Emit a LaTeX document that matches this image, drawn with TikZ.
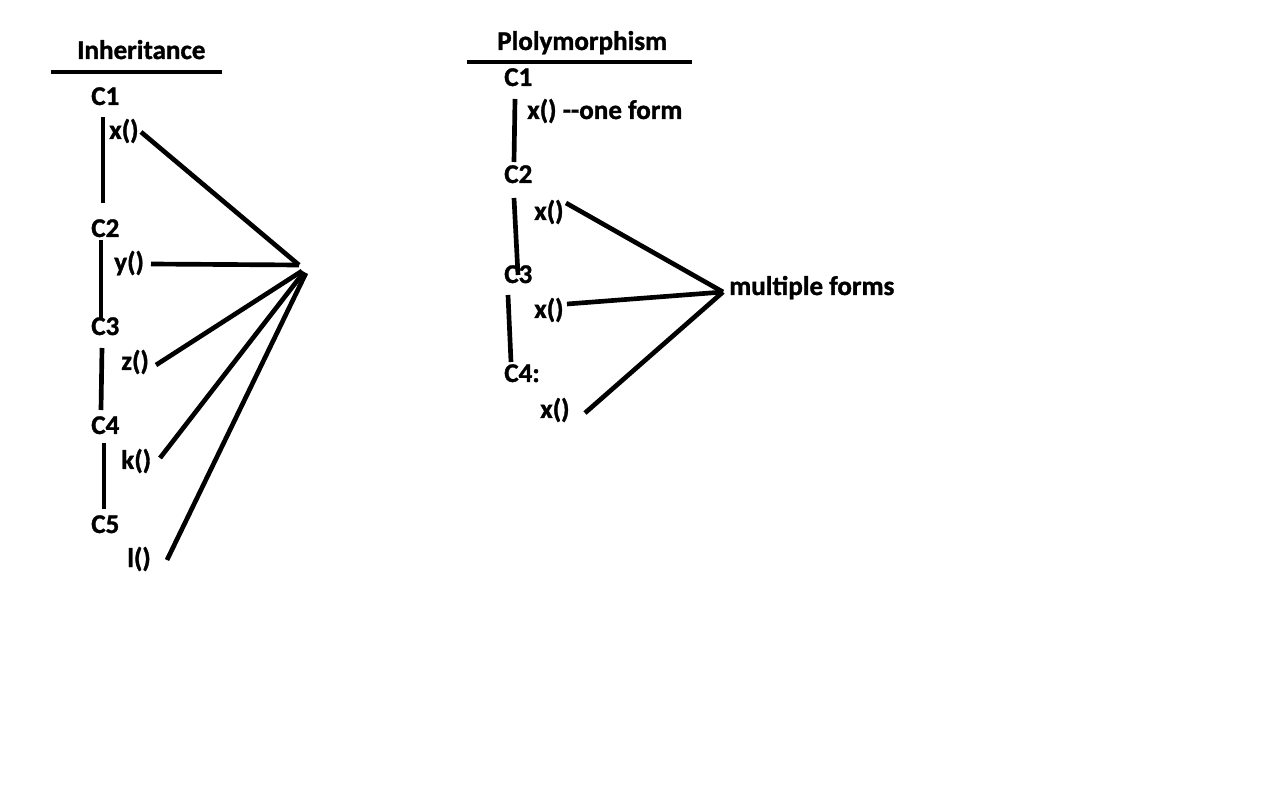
\documentclass[tikz,border=0pt]{standalone}
\usepackage{fontspec}
\setmainfont{Carlito}[BoldFeatures={FakeBold=1.2}]
\begin{document}
\begin{tikzpicture}[x=0.75pt,y=-0.75pt,
  lbl/.style={anchor=base west,inner sep=0pt,font=\bfseries\fontsize{20.3}{24}\selectfont},
  ln/.style={line width=3.5pt,black}]
\path[fill=white] (0,0) rectangle (1271,805);
\useasboundingbox (0,0) rectangle (1271,805);
% ---- Inheritance ----
\node[lbl] (inh) at (77,59) {Inheritance};
\coordinate (inhL) at (51,72); \coordinate (inhR) at (222,72);
\draw[ln] (inhL) -- (inhR);
\node[lbl] (a1) at (91,105) {C1};
\node[lbl] (ax) at (109,139) {x()};
\node[lbl] (a2) at (91,237) {C2};
\node[lbl] (ay) at (114,271) {y()};
\node[lbl] (a3) at (91,335) {C3};
\node[lbl] (az) at (121,370) {z()};
\node[lbl] (a4) at (91,434) {C4};
\node[lbl] (ak) at (121,469) {k()};
\node[lbl] (a5) at (91,533) {C5};
\node[lbl] (al) at (127,567) {l()};
\coordinate (v1a) at (103,117); \coordinate (v1b) at (103,203);
\coordinate (v2a) at (101,240); \coordinate (v2b) at (101,320);
\coordinate (v3a) at (102,348); \coordinate (v3b) at (101,410);
\coordinate (v4a) at (104,443); \coordinate (v4b) at (104,509);
\draw[ln] (v1a) -- (v1b);
\draw[ln] (v2a) -- (v2b);
\draw[ln] (v3a) -- (v3b);
\draw[ln] (v4a) -- (v4b);
\coordinate (apexA) at (299,265);
\coordinate (exA) at (141,132);
\coordinate (eyA) at (151,264);
\coordinate (ezA) at (156,365);
\coordinate (ekA) at (160,458);
\coordinate (elA) at (167,560);
\draw[ln] (exA) -- (apexA);
\draw[ln] (eyA) -- (apexA);
\draw[ln] (ezA) -- (302,271);
\draw[ln] (ekA) -- (304,272);
\draw[ln] (elA) -- (306,273);
% ---- Polymorphism ----
\node[lbl] (pol) at (497,50) {Plolymorphism};
\coordinate (polL) at (467,62); \coordinate (polR) at (692,62);
\draw[ln] (polL) -- (polR);
\node[lbl] (b1) at (504,86) {C1};
\node[lbl] (bx1) at (527,119) {x() -{}-one form};
\node[lbl] (b2) at (504,183) {C2};
\node[lbl] (bx2) at (534,220) {x()};
\node[lbl] (b3) at (504,283) {C3};
\node[lbl] (bx3) at (534,318) {x()};
\node[lbl] (b4) at (504,382) {C4:};
\node[lbl] (bx4) at (540,418) {x()};
\node[lbl] (mf) at (729,295) {multiple forms};
\coordinate (w1a) at (515,99); \coordinate (w1b) at (514,162);
\coordinate (w2a) at (514,198); \coordinate (w2b) at (518,275);
\coordinate (w3a) at (508,295); \coordinate (w3b) at (511,362);
\draw[ln] (w1a) -- (w1b);
\draw[ln] (w2a) -- (w2b);
\draw[ln] (w3a) -- (w3b);
\coordinate (apexB) at (723,292);
\coordinate (e2B) at (566,203);
\coordinate (e3B) at (567,304);
\coordinate (e4B) at (585,413);
\draw[ln] (e2B) -- (apexB);
\draw[ln] (e3B) -- (apexB);
\draw[ln] (e4B) -- (apexB);
\end{tikzpicture}
\end{document}
